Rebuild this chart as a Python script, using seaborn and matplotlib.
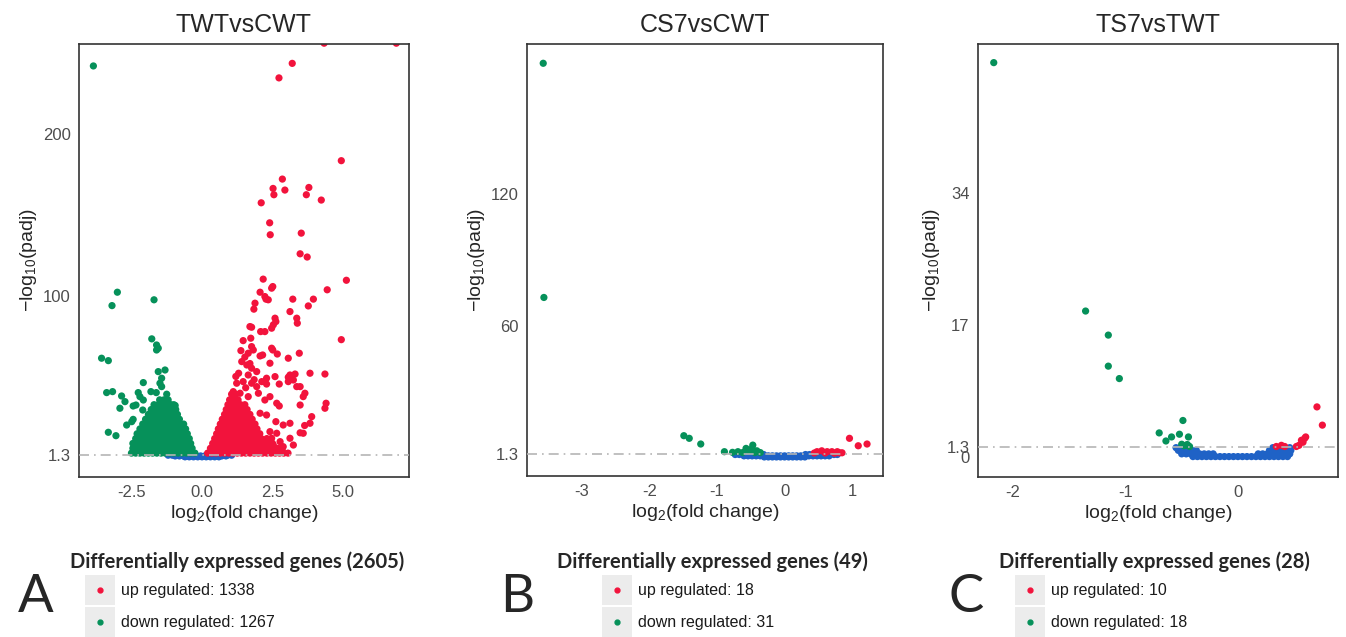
import numpy as np
import pandas as pd
import seaborn as sns
import matplotlib.pyplot as plt
from matplotlib.patches import Rectangle
from matplotlib.lines import Line2D

sns.set_style("white")
plt.rcParams['font.family'] = ['Liberation Sans', 'DejaVu Sans']
plt.rcParams['mathtext.fontset'] = 'custom'
plt.rcParams['mathtext.rm'] = 'Liberation Sans'
plt.rcParams['mathtext.it'] = 'Liberation Sans:italic'

# colours used by the volcano plots
UP_COL = "#f2133c"
DOWN_COL = "#06915a"
NS_COL = "#1f62c6"

titles = ["TWTvsCWT", "CS7vsCWT", "TS7vsTWT"]
letters = ["A", "B", "C"]
deg_total = [2605, 49, 28]
deg_up = [1338, 18, 10]
deg_down = [1267, 31, 18]

# ---- panel A (TWTvsCWT) : scattered points ----
a_up_x = [4.33, 6.89, 3.20, 2.73, 4.94, 2.85, 2.52, 2.94, 3.79, 2.55, 3.70, 4.23, 2.10, 2.40, 2.42, 3.52,
          3.48, 3.73, 5.12, 2.17, 2.51, 2.47, 4.44, 2.06, 2.23, 2.35, 2.27, 3.22, 3.95, 3.77, 1.88, 1.84,
          3.12, 2.59, 2.62, 2.53, 2.47, 3.36, 3.38, 1.70, 1.76, 2.08, 2.23, 4.94, 1.46, 1.73, 2.47, 2.51,
          1.76, 1.82, 1.64, 2.06, 2.15, 2.67, 3.06, 3.45, 2.41, 1.41, 1.59, 1.76, 1.94, 1.64, 2.29, 2.59,
          3.06, 3.12, 3.30, 3.83, 4.36, 1.23, 1.46, 1.76, 1.94, 2.12, 2.29, 2.74, 3.06, 3.24, 3.36, 3.48,
          3.65, 3.59, 1.11, 1.35, 1.64, 2.00, 2.23, 2.41, 2.65, 2.74, 3.48, 4.40, 4.36, 3.89, 3.83, 2.06,
          2.29, 2.62, 2.88, 3.12, 2.41, 2.65, 3.48, 3.59, 3.12, 1.94, 2.17, 2.47, 2.77, 2.53, 2.88, 3.24,
          1.94, 2.29, 3.64, 1.30, 1.52, 1.38, 1.55, 1.70, 1.20, 1.85]
a_up_y = [256.5, 256.5, 244, 235, 183.7, 172.3, 166.5, 165.5, 167.1, 162.6, 162.6, 159.3, 157.6, 145.2, 137.8, 138.8,
          126, 124, 109.6, 110.3, 105.7, 104.7, 103.7, 102.2, 99.5, 97.5, 97.9, 97.9, 97.9, 93.7, 95.4, 91.7,
          90.2, 86.1, 84, 82, 79.9, 86.1, 83, 80.9, 80.5, 77.8, 77.8, 72.8, 72.2, 73.7, 67.5, 66.4,
          68.5, 66.4, 64.4, 62.7, 63.3, 63.9, 61.3, 64.4, 58.2, 59.2, 57.1, 55.1, 53, 50.9, 48.9, 49.9,
          49.5, 50.9, 51.5, 52, 51.5, 45.8, 46.8, 45.8, 43.7, 46.8, 45.3, 45.3, 46.8, 47.8, 43.7, 43.7,
          39.6, 37.5, 40.6, 39.6, 37.5, 39.6, 35.4, 37.5, 33.4, 31.7, 32.3, 33.4, 30.3, 25.1, 21, 27.2,
          26.1, 22, 19.9, 21, 15.8, 14.8, 15.1, 14.8, 11.7, 12.7, 10.6, 11.7, 9.6, 7.5, 6.5, 7.5,
          5.5, 4.4, 19.6, 52.0, 62.0, 66.0, 43.0, 58.0, 50.0, 48.0]
a_down_x = [-3.85, -3.00, -3.19, -1.70, -1.78, -1.61, -1.55, -1.61, -3.56, -3.32, -1.31, -1.55, -1.43, -1.49,
            -1.43, -2.08, -3.38, -3.17, -1.81, -2.26, -2.20, -2.08, -2.85, -2.73, -2.91, -2.44, -2.34, -2.10,
            -2.44, -2.49, -2.67, -3.32, -3.05, -1.62, -1.25, -0.95]
a_down_y = [242.4, 102.2, 93.9, 97.5, 73.3, 69.5, 67.5, 66.4, 61.3, 59.8, 54.0, 53, 48.9, 45.8,
            43.7, 46.2, 40, 40.6, 40.6, 40, 37.5, 35.4, 37.9, 34.4, 30.3, 31.7, 32.3, 29.2,
            23.4, 22, 19.9, 15.4, 13.3, 40.0, 39.0, 32.0]

# dense clouds of panel A, written as rows: (y, [x positions])
a_up_rows = [
    (2.5, [0.2, 0.35, 0.5, 0.65, 0.8, 0.95, 1.1, 1.25, 1.4, 1.55, 1.7, 1.85, 2.0, 2.15, 2.3, 2.45, 2.6, 2.75, 2.9, 3.05]),
    (5.5, [0.3, 0.45, 0.6, 0.75, 0.9, 1.05, 1.2, 1.35, 1.5, 1.65, 1.8, 1.95, 2.1, 2.25, 2.4, 2.55, 2.7, 2.85]),
    (8.5, [0.38, 0.53, 0.68, 0.83, 0.98, 1.13, 1.28, 1.43, 1.58, 1.73, 1.88, 2.03, 2.18, 2.33, 2.5]),
    (11.5, [0.45, 0.6, 0.75, 0.9, 1.05, 1.2, 1.35, 1.5, 1.65, 1.8, 1.95, 2.1, 2.3]),
    (14.5, [0.52, 0.67, 0.82, 0.97, 1.12, 1.27, 1.42, 1.57, 1.72, 1.87, 2.05]),
    (17.5, [0.58, 0.73, 0.88, 1.03, 1.18, 1.33, 1.48, 1.63, 1.78, 1.95]),
    (20.5, [0.65, 0.8, 0.95, 1.1, 1.25, 1.4, 1.55, 1.7, 1.88]),
    (23.5, [0.72, 0.87, 1.02, 1.17, 1.32, 1.47, 1.62, 1.78]),
    (26.5, [0.8, 0.95, 1.1, 1.25, 1.4, 1.55, 1.7]),
    (29.5, [0.86, 1.01, 1.16, 1.31, 1.46, 1.6]),
    (32.5, [0.92, 1.07, 1.22, 1.37, 1.52]),
    (35.5, [0.98, 1.13, 1.28]),
    (39.0, [1.05, 1.2]),
]
a_down_rows = [
    (2.5, [-2.5, -2.35, -2.2, -2.05, -1.9, -1.75, -1.6, -1.45, -1.3, -1.15, -1.0, -0.85, -0.7, -0.55, -0.4, -0.25]),
    (5.5, [-2.45, -2.3, -2.15, -2.0, -1.85, -1.7, -1.55, -1.4, -1.25, -1.1, -0.95, -0.8, -0.65, -0.5, -0.35]),
    (8.5, [-2.45, -2.3, -2.15, -2.0, -1.85, -1.7, -1.55, -1.4, -1.25, -1.1, -0.95, -0.8, -0.65, -0.5, -0.4]),
    (11.5, [-2.35, -2.2, -2.05, -1.9, -1.75, -1.6, -1.45, -1.3, -1.15, -1.0, -0.85, -0.7, -0.55, -0.45]),
    (14.5, [-2.3, -2.15, -2.0, -1.85, -1.7, -1.55, -1.4, -1.25, -1.1, -0.95, -0.8, -0.65, -0.52]),
    (17.5, [-2.2, -2.05, -1.9, -1.75, -1.6, -1.45, -1.3, -1.15, -1.0, -0.85, -0.7, -0.58]),
    (20.5, [-2.1, -1.95, -1.8, -1.65, -1.5, -1.35, -1.2, -1.05, -0.9, -0.75, -0.65]),
    (23.5, [-2.0, -1.85, -1.7, -1.55, -1.4, -1.25, -1.1, -0.95, -0.8]),
    (26.5, [-1.9, -1.75, -1.6, -1.45, -1.3, -1.15, -1.0, -0.87]),
    (29.5, [-1.8, -1.65, -1.5, -1.35, -1.2, -1.05, -0.93]),
    (32.5, [-1.7, -1.55, -1.4, -1.25, -1.1, -1.0]),
    (35.5, [-1.5, -1.35, -1.2]),
]
a_ns_rows = [
    (0.2, [-0.6, -0.45, -0.3, -0.15, 0.0, 0.15, 0.3, 0.45, 0.6]),
    (0.75, [-0.95, -0.8, -0.65, -0.5, -0.35, -0.2, -0.05, 0.1, 0.25, 0.4, 0.55, 0.7, 0.85]),
    (1.2, [-1.2, -1.05, -0.9, -0.75, -0.6, 0.6, 0.75, 0.9, 1.05]),
]

# ---- panel B (CS7vsCWT) ----
b_up_x = [0.96, 1.09, 1.22, 0.48, 0.55, 0.63, 0.70, 0.78, 0.85, 0.60, 0.74, 0.81, 0.44]
b_up_y = [8.5, 5.1, 5.9, 2.4, 2.8, 2.4, 2.4, 2.4, 1.9, 1.8, 1.7, 1.9, 1.8]
b_down_x = [-3.57, -3.56, -1.49, -1.41, -1.24, -0.89, -0.77, -0.69, -0.57, -0.47, -0.48, -0.41, -0.62, -0.52, -0.44, -0.36]
b_down_y = [179.7, 72.8, 9.7, 8.5, 5.9, 2.4, 2.1, 2.4, 3.9, 5.4, 3.9, 2.8, 2.0, 2.6, 2.0, 2.0]
b_ns_rows = [
    (0.0, [-0.3, -0.24, -0.18, -0.12, -0.06, 0.0, 0.06, 0.12, 0.18, 0.24, 0.3]),
    (0.5, [-0.6, -0.54, -0.48, -0.42, -0.36, -0.3, -0.24, -0.18, -0.12, -0.06, 0.0, 0.06, 0.12, 0.18, 0.24,
           0.3, 0.36, 0.42, 0.48, 0.54, 0.6, 0.66]),
    (1.1, [-0.73, -0.67, -0.61, -0.55, -0.49, -0.43, -0.37, -0.31, 0.31, 0.37, 0.43, 0.49, 0.55, 0.61, 0.67, 0.73, 0.78]),
]

# ---- panel C (TS7vsTWT) ----
c_up_x = [0.702, 0.75, 0.386, 0.341, 0.415, 0.519, 0.542, 0.578, 0.593, 0.564, 0.602]
c_up_y = [6.45, 4.1, 1.5, 1.35, 1.35, 1.35, 1.5, 1.9, 2.4, 2.15, 2.58]
c_down_x = [-2.17, -1.354, -1.152, -1.152, -1.054, -0.489, -0.70, -0.64, -0.59, -0.52, -0.44, -0.50, -0.46, -0.43, -0.48, -0.45]
c_down_y = [50.8, 18.8, 15.7, 11.7, 10.1, 4.7, 3.1, 2.06, 2.58, 2.93, 2.58, 1.64, 1.5, 1.35, 1.45, 1.6]
c_ns_rows = [
    (0.05, [-0.4, -0.36, -0.32, -0.28, -0.24, -0.2, -0.16, -0.12, -0.08, -0.04, 0.0, 0.04, 0.08, 0.12, 0.16,
            0.2, 0.24, 0.28, 0.32, 0.36, 0.4, 0.44]),
    (0.4, [-0.5, -0.46, -0.42, -0.38, -0.34, -0.3, -0.26, -0.22, 0.18, 0.22, 0.26, 0.3, 0.34, 0.38, 0.42, 0.46]),
    (0.85, [-0.53, -0.49, -0.45, -0.41, -0.37, 0.28, 0.32, 0.36, 0.4, 0.44, 0.47]),
    (1.2, [-0.55, -0.51, -0.47, 0.31, 0.35, 0.42, 0.46]),
]

x_ticks = [[-2.5, 0.0, 2.5, 5.0], [-3, -2, -1, 0, 1], [-2, -1, 0]]
x_ticklabels = [["-2.5", "0.0", "2.5", "5.0"], ["-3", "-2", "-1", "0", "1"], ["-2", "-1", "0"]]
y_ticks = [[1.3, 100, 200], [1.3, 60, 120], [0, 1.3, 17, 34]]
x_limits = [(-4.36, 7.34), (-3.81, 1.456), (-2.31, 0.889)]
y_limits = [(-12.3, 256), (-8.7, 188.5), (-2.58, 53.2)]


def rows_to_xy(rows):
    xs, ys = [], []
    for y, row in rows:
        xs += row
        ys += [y] * len(row)
    return xs, ys


def make_frame(up_x, up_y, down_x, down_y, ns_rows, up_rows=(), down_rows=()):
    ux, uy = rows_to_xy(up_rows)
    dx, dy = rows_to_xy(down_rows)
    nx, ny = rows_to_xy(ns_rows)
    frames = [
        pd.DataFrame({"x": nx, "y": ny, "group": "ns"}),
        pd.DataFrame({"x": dx + down_x, "y": dy + down_y, "group": "down"}),
        pd.DataFrame({"x": ux + up_x, "y": uy + up_y, "group": "up"}),
    ]
    return pd.concat(frames, ignore_index=True)


frames = [
    make_frame(a_up_x, a_up_y, a_down_x, a_down_y, a_ns_rows, a_up_rows, a_down_rows),
    make_frame(b_up_x, b_up_y, b_down_x, b_down_y, b_ns_rows),
    make_frame(c_up_x, c_up_y, c_down_x, c_down_y, c_ns_rows),
]

W, H = 1346, 637
fig = plt.figure(figsize=(W / 100, H / 100), dpi=100)

# axes boxes in pixels: left, top, right, bottom
boxes = [(79, 44, 409, 477), (527, 44, 883, 476), (978, 44, 1338, 477)]
# legend placement in pixels: title centre, key left, letter centre
legend_pos = [(237, 85, 36), (712, 602, 517), (1154, 1015, 966)]

for i in range(3):
    l, t, r, b = boxes[i]
    ax = fig.add_axes([l / W, 1 - b / H, (r - l) / W, (b - t) / H])
    sns.scatterplot(data=frames[i], x="x", y="y", hue="group",
                    palette={"up": UP_COL, "down": DOWN_COL, "ns": NS_COL},
                    s=27, linewidth=0, legend=False, ax=ax)
    ax.axhline(1.3, color="#b5b5b5", lw=1.2, linestyle=(0, (6, 3, 1, 3)), zorder=5)
    ax.set_xlim(*x_limits[i])
    ax.set_ylim(*y_limits[i])
    ax.set_xticks(x_ticks[i])
    ax.set_xticklabels(x_ticklabels[i])
    ax.set_yticks(y_ticks[i])
    ax.set_yticklabels([("%g" % v) for v in y_ticks[i]])
    ax.tick_params(length=4, width=1, color="#333333", labelcolor="#4d4d4d", labelsize=12, pad=2)
    for sp in ax.spines.values():
        sp.set_color("#333333")
        sp.set_linewidth(1.2)
    ax.set_xlabel(r"log$_2$(fold change)", fontsize=14, labelpad=2)
    ax.set_ylabel(r"$-$log$_{10}$(padj)", fontsize=14, labelpad=3)
    ax.set_title(titles[i], fontsize=18, pad=9)

    # legend block under each panel
    tcx, kx, lcx = legend_pos[i]
    fig.text(tcx / W, 1 - 562 / H, "Differentially expressed genes (%d)" % deg_total[i],
             ha="center", va="center", fontsize=14.5, fontweight="bold", family=["Lato", "DejaVu Sans"])
    for j, (lab, col, cy) in enumerate([("up regulated: %d" % deg_up[i], UP_COL, 590),
                                         ("down regulated: %d" % deg_down[i], DOWN_COL, 622)]):
        fig.add_artist(Rectangle(((kx) / W, 1 - (cy + 15) / H), 30 / W, 30 / H,
                                 transform=fig.transFigure, facecolor="#ececec", edgecolor="none"))
        fig.add_artist(Line2D([(kx + 15) / W], [1 - cy / H], marker="o", markersize=3.5,
                              color=col, linestyle="none", transform=fig.transFigure))
        fig.text((kx + 36) / W, 1 - cy / H, lab, ha="left", va="center", fontsize=11.5, color="#1a1a1a")
    fig.text(lcx / W, 1 - 598 / H, letters[i], ha="center", va="center", fontsize=38,
             family=["Lato", "DejaVu Sans"])

fig.savefig("out.png", dpi=100)
